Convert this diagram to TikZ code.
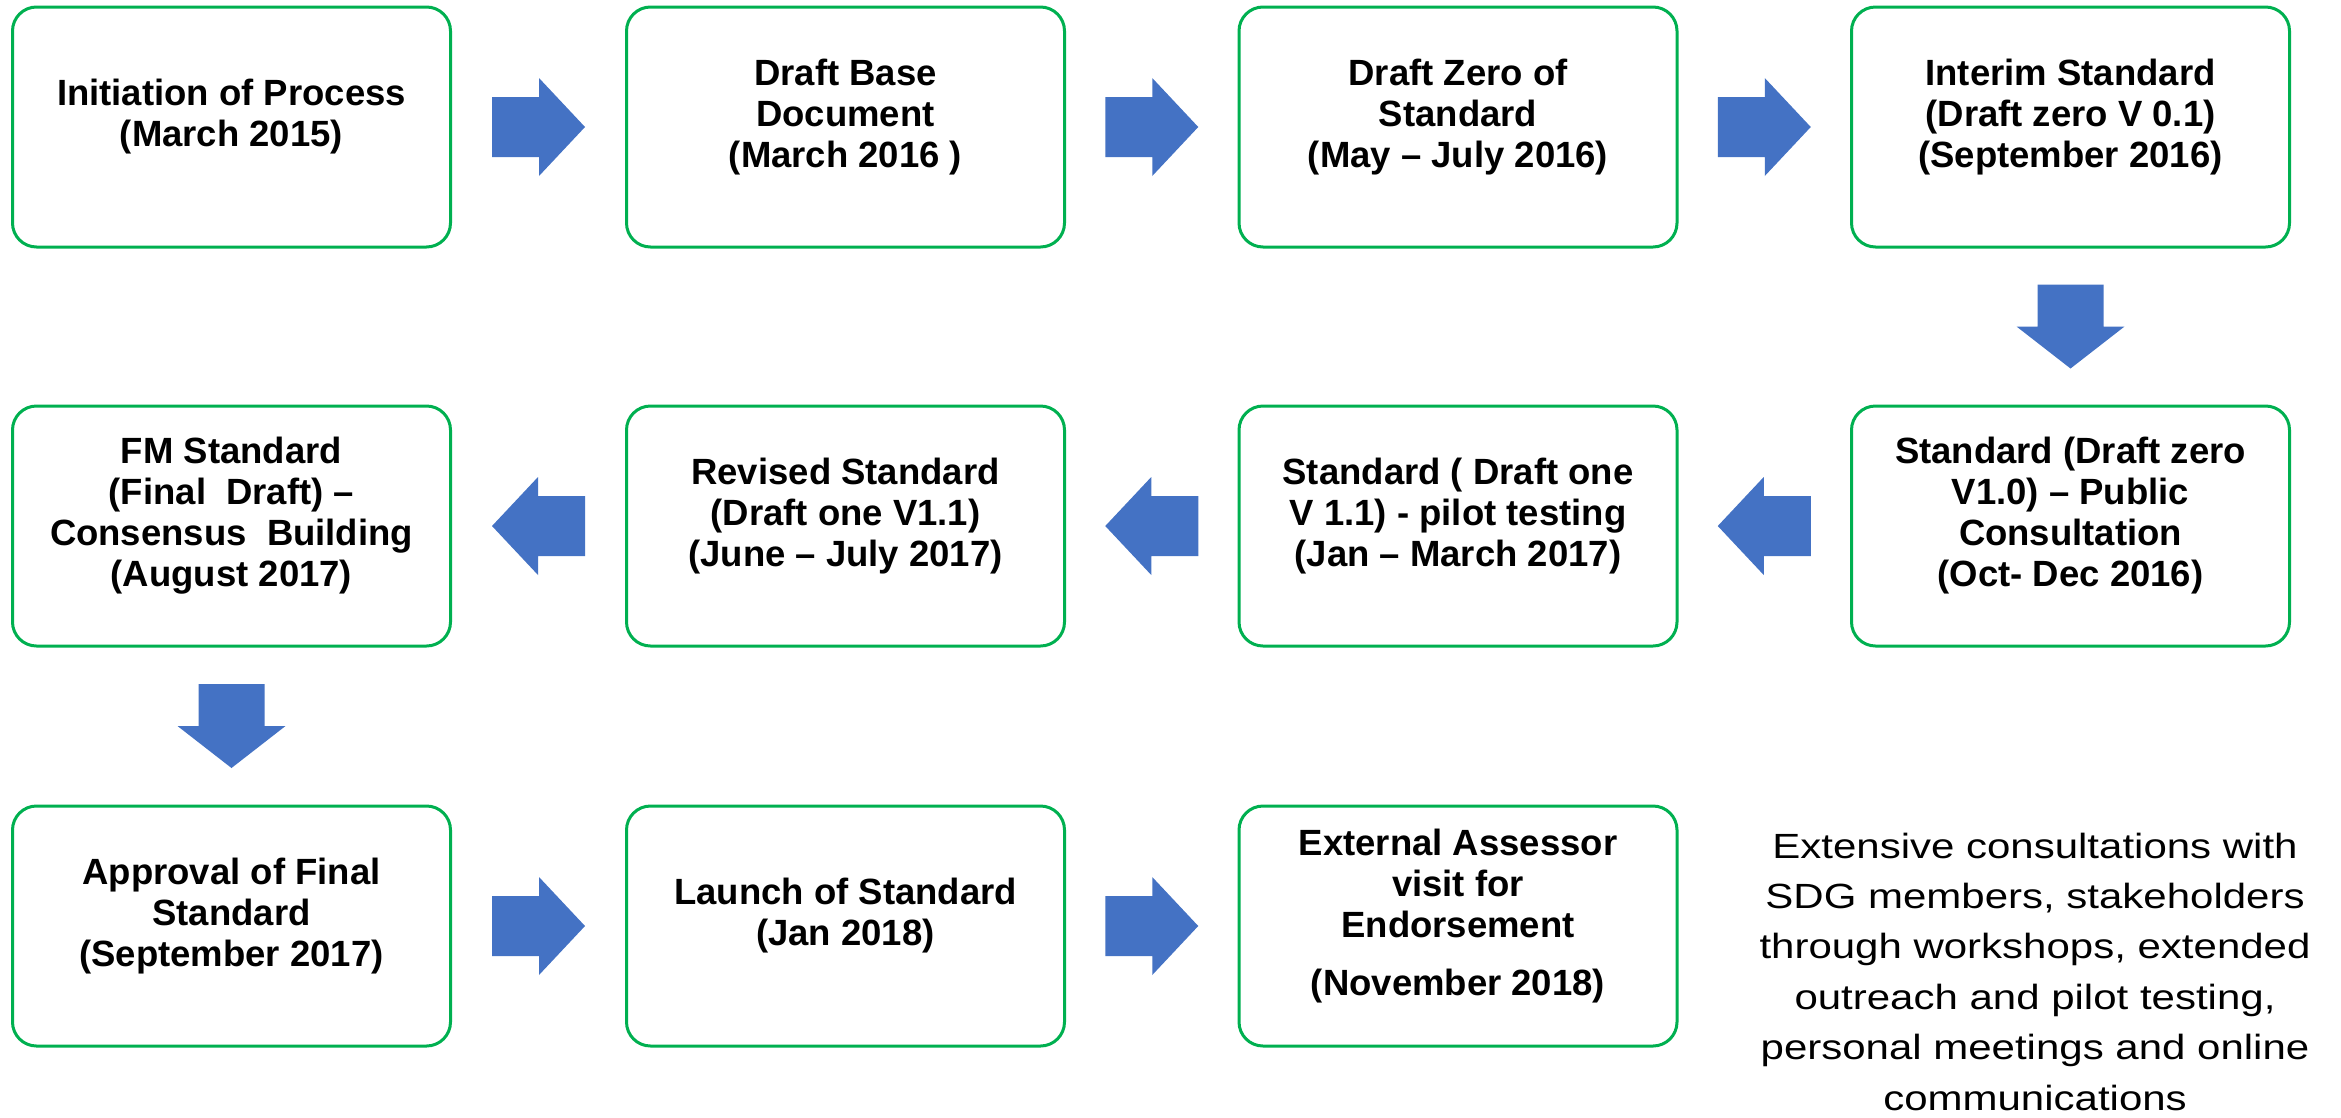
\documentclass[tikz,border=0pt]{standalone}
\usepackage{fontspec}
\setmainfont{Liberation Sans}
\newfontfamily\notefont[FakeStretch=1.2]{Liberation Sans}
\usetikzlibrary{calc}
\definecolor{boxgreen}{HTML}{00B050}
\definecolor{arrowblue}{HTML}{4472C4}
\tikzset{
  box/.style={draw=boxgreen, line width=3pt, rounded corners=24pt, minimum width=438pt, minimum height=240pt, inner sep=0pt},
  txt/.style={font=\fontsize{36.5}{41}\selectfont\bfseries, align=center, inner sep=0pt},
  notetxt/.style={font=\notefont\fontsize{35}{50.4}\selectfont, align=center, inner sep=0pt},
  rarrow/.pic={\fill[arrowblue] (-46.5,30) -- (0.5,30) -- (0.5,49) -- (46.5,0) -- (0.5,-49) -- (0.5,-30) -- (-46.5,-30) -- cycle;},
  darrow/.pic={\fill[arrowblue] (-33,42) -- (33,42) -- (33,0) -- (54,0) -- (0,-42) -- (-54,0) -- (-33,0) -- cycle;},
}
\begin{document}
\begin{tikzpicture}[x=1pt,y=1pt]
\fill[white] (0,0) rectangle (2341,-1117);
\useasboundingbox (0,0) rectangle (2341,-1117);
% row 1
\node[box] (b1) at (231.5,-127) {};
\node[box] (b2) at (845.5,-127) {};
\node[box] (b3) at (1458,-127) {};
\node[box] (b4) at (2070.5,-127) {};
% row 2
\node[box] (b5) at (2070.5,-526) {};
\node[box] (b6) at (1458,-526) {};
\node[box] (b7) at (845.5,-526) {};
\node[box] (b8) at (231.5,-526) {};
% row 3
\node[box] (b9) at (231.5,-926) {};
\node[box] (b10) at (845.5,-926) {};
\node[box] (b11) at (1458,-926) {};
% texts
\node[txt] (t1) at ([yshift=9pt]b1.center) {\strut Initiation of Process\\(March 2015)\strut};
\node[txt] (t2) at ([yshift=9pt]b2.center) {\strut Draft Base\\Document\\(March 2016 )\strut};
\node[txt] (t3) at ([yshift=9pt]b3.center) {\strut Draft Zero of\\Standard\\(May – July 2016)\strut};
\node[txt] (t4) at ([yshift=9pt]b4.center) {\strut Interim Standard\\(Draft zero V 0.1)\\(September 2016)\strut};
\node[txt] (t5) at ([yshift=9pt]b5.center) {\strut Standard (Draft zero\\V1.0) – Public\\Consultation\\(Oct- Dec 2016)\strut};
\node[txt] (t6) at ([yshift=9pt]b6.center) {\strut Standard ( Draft one\\V 1.1) - pilot testing\\(Jan – March 2017)\strut};
\node[txt] (t7) at ([yshift=9pt]b7.center) {\strut Revised Standard\\(Draft one V1.1)\\(June – July 2017)\strut};
\node[txt] (t8) at ([yshift=9pt]b8.center) {\strut FM Standard\\(Final~~Draft) –\\Consensus~~Building\\(August 2017)\strut};
\node[txt] (t9) at ([yshift=9pt]b9.center) {\strut Approval of Final\\Standard\\(September 2017)\strut};
\node[txt] (t10) at ([yshift=9pt]b10.center) {\strut Launch of Standard\\(Jan 2018)\strut};
\node[txt] (t11) at ([yshift=9pt]b11.center) {\strut External Assessor\\visit for\\Endorsement\\[17pt](November 2018)\strut};
\node[notetxt] (note) at (2035,-974) {\strut Extensive consultations with\\SDG members, stakeholders\\through workshops, extended\\outreach and pilot testing,\\personal meetings and online\\communications\strut};
% arrows
\coordinate (a12) at ($(b1.east)!0.5!(b2.west)$);
\coordinate (a23) at ($(b2.east)!0.5!(b3.west)$);
\coordinate (a34) at ($(b3.east)!0.5!(b4.west)$);
\coordinate (a45) at ($(b4.south)!0.5!(b5.north)$);
\coordinate (a56) at ($(b5.west)!0.5!(b6.east)$);
\coordinate (a67) at ($(b6.west)!0.5!(b7.east)$);
\coordinate (a78) at ($(b7.west)!0.5!(b8.east)$);
\coordinate (a89) at ($(b8.south)!0.5!(b9.north)$);
\coordinate (a910) at ($(b9.east)!0.5!(b10.west)$);
\coordinate (a1011) at ($(b10.east)!0.5!(b11.west)$);
\pic at (a12) {rarrow};
\pic at (a23) {rarrow};
\pic at (a34) {rarrow};
\pic at (a45) {darrow};
\pic[rotate=180] at (a56) {rarrow};
\pic[rotate=180] at (a67) {rarrow};
\pic[rotate=180] at (a78) {rarrow};
\pic at (a89) {darrow};
\pic at (a910) {rarrow};
\pic at (a1011) {rarrow};
\end{tikzpicture}
\end{document}
